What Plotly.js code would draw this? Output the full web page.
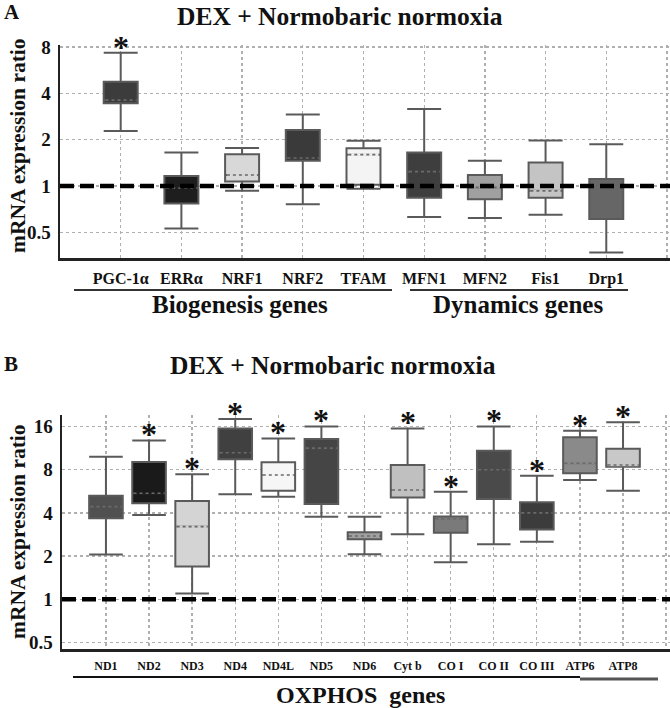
<!DOCTYPE html>
<html>
<head>
<meta charset="utf-8">
<script src="https://cdn.plot.ly/plotly-3.0.1.min.js"></script>
<style>html,body{margin:0;padding:0;background:#fff;}#chart{width:670px;height:708px;}</style>
</head>
<body>
<div id="chart"></div>
<script>
// ---------- Panel A data ----------
const catsA  = ['PGC-1α','ERRα','NRF1','NRF2','TFAM','MFN1','MFN2','Fis1','Drp1'];
const upperA = [7.36, 1.65, 1.77, 2.92, 1.97, 3.17, 1.46, 1.98, 1.87];
const q3A    = [4.77, 1.16, 1.61, 2.31, 1.76, 1.65, 1.18, 1.42, 1.11];
const medA   = [3.62, 0.97, 1.18, 1.52, 1.60, 1.24, 0.98, 0.93, 0.98];
const q1A    = [3.45, 0.77, 1.07, 1.46, 1.02, 0.84, 0.82, 0.84, 0.61];
const lowerA = [2.28, 0.53, 0.93, 0.76, 0.96, 0.63, 0.62, 0.65, 0.37];
const sigA   = [true, false, false, false, false, false, false, false, false];

// ---------- Panel B data ----------
const catsB  = ['ND1','ND2','ND3','ND4','ND4L','ND5','ND6','Cyt b','CO I','CO II','CO III','ATP6','ATP8'];
const upperB = [9.86, 12.8, 7.43, 18.0, 13.2, 16.0, 3.76, 15.5, 5.62, 16.0, 7.27, 14.96, 17.1];
const q3B    = [5.27, 9.05, 4.84, 15.5, 9.0, 13.1, 2.93, 8.63, 3.78, 10.85, 4.74, 13.45, 11.2];
const medB   = [4.42, 5.48, 3.21, 10.5, 7.35, 11.3, 2.76, 5.78, 3.65, 8.0, 4.0, 8.86, 8.63];
const q1B    = [3.67, 4.67, 1.69, 9.45, 5.71, 4.61, 2.62, 5.13, 2.91, 5.0, 3.07, 7.55, 8.4];
const lowerB = [2.05, 3.87, 1.10, 5.39, 5.19, 3.76, 2.06, 2.84, 1.81, 2.42, 2.52, 6.78, 5.71];
const sigB   = [false, true, true, true, true, true, false, true, true, true, true, true, true];

const refLevel = 1;
const yTicksA = [0.5, 1, 2, 4, 8];
const yTicksB = [0.5, 1, 2, 4, 8, 16];

// ---------- styles ----------
const fillA = ['#3c3c3c','#1e1e1e','#d8d8d8','#3a3a3a','#f4f4f4','#3e3e3e','#a0a0a0','#c4c4c4','#666666'];
const fillB = ['#505050','#1a1a1a','#d4d4d4','#404040','#f6f6f6','#454545','#a0a0a0','#c0c0c0','#7a7a7a','#4a4a4a','#3c3c3c','#8a8a8a','#c8c8c8'];
const FONT = 'Liberation Serif, Times New Roman, serif';

const traces = [];
const annotations = [];

function addPanel(cats, upper, q3, med, q1, lower, sig, fills, xa, ya, bw, xr) {
  cats.forEach((c, i) => {
    traces.push({
      type: 'box', x: [i], q1: [q1[i]], median: [med[i]], q3: [q3[i]],
      lowerfence: [lower[i]], upperfence: [upper[i]],
      width: bw, whiskerwidth: 1, boxpoints: false,
      fillcolor: fills[i], line: {color: '#5a5a5a', width: 2},
      xaxis: xa, yaxis: ya, showlegend: false, hoverinfo: 'skip'
    });
    // cover solid median, then draw dotted median
    traces.push({
      type: 'scatter', mode: 'lines', x: [i - bw/2 + 0.03, i + bw/2 - 0.03], y: [med[i], med[i]],
      line: {color: fills[i], width: 2.5}, xaxis: xa, yaxis: ya, showlegend: false, hoverinfo: 'skip'
    });
    traces.push({
      type: 'scatter', mode: 'lines', x: [i - bw/2 + 0.03, i + bw/2 - 0.03], y: [med[i], med[i]],
      line: {color: '#6a6a6a', width: 1.6, dash: 'dot'}, xaxis: xa, yaxis: ya, showlegend: false, hoverinfo: 'skip'
    });
    if (sig[i]) {
      annotations.push({
        xref: xa, yref: ya, x: i, y: Math.log10(upper[i]), yshift: 6,
        text: '*', showarrow: false, xanchor: 'center', yanchor: 'middle',
        font: {family: FONT, size: 32, color: '#111', weight: 'bold'}
      });
    }
  });
  // reference dashed line at 1
  traces.push({
    type: 'scatter', mode: 'lines', x: xr, y: [refLevel, refLevel],
    line: {color: '#000', width: 4.5, dash: '14px,6px'},
    xaxis: xa, yaxis: ya, showlegend: false, hoverinfo: 'skip', cliponaxis: true
  });
}

addPanel(catsA, upperA, q3A, medA, q1A, lowerA, sigA, fillA, 'x', 'y', 0.56, [-1, 9.05]);
addPanel(catsB, upperB, q3B, medB, q1B, lowerB, sigB, fillB, 'x2', 'y2', 0.78, [-1.02, 13.09]);

function xAxis(cats, domain, range, anchor, size, standoff) {
  const vals = cats.map((_, i) => i).concat([cats.length]);
  return {
    domain: domain, range: range, anchor: anchor, type: 'linear',
    tickmode: 'array', tickvals: vals, ticktext: cats.concat(['']),
    showgrid: true, gridcolor: '#b0b0b0', gridwidth: 1.3, griddash: 'dot',
    zeroline: false, showline: true, linecolor: '#222', linewidth: 3,
    ticks: '', ticklabelstandoff: standoff,
    tickfont: {family: FONT, size: size, color: '#111', weight: 'bold'}
  };
}
function yAxis(ticks, domain, range, anchor) {
  return {
    domain: domain, range: range, anchor: anchor, type: 'log',
    tickmode: 'array', tickvals: ticks, ticktext: ticks.map(String),
    showgrid: true, gridcolor: '#b0b0b0', gridwidth: 1.3, griddash: 'dot',
    zeroline: false, showline: true, linecolor: '#222', linewidth: 2.5,
    ticks: '', ticklabelstandoff: 3,
    tickfont: {family: FONT, size: 19, color: '#111', weight: 'bold'}
  };
}

const tFont = (s) => ({family: FONT, size: s, color: '#111', weight: 'bold'});
const paperText = (text, x, y, size, angle) => ({
  xref: 'paper', yref: 'paper', x: x / 670, y: 1 - y / 708, text: text, showarrow: false,
  xanchor: 'center', yanchor: 'middle', textangle: angle || 0, font: tFont(size)
});

annotations.push(
  paperText('A', 12, 12, 21),
  paperText('DEX + Normobaric normoxia', 340, 16, 25.5),
  paperText('mRNA expression ratio', 18, 146, 21.5, -90),
  paperText('Biogenesis genes', 240, 304, 25),
  paperText('Dynamics genes', 518, 304, 25),
  paperText('B', 11, 364, 21),
  paperText('DEX + Normobaric normoxia', 333, 365, 25.5),
  paperText('mRNA expression ratio', 18, 532, 21.5, -90),
  paperText('OXPHOS\u00a0 genes', 361, 695, 24)
);

const hLine = (x0, x1, y, color, w) => ({
  type: 'line', xref: 'paper', yref: 'paper', x0: x0 / 670, x1: x1 / 670,
  y0: 1 - y / 708, y1: 1 - y / 708, line: {color: color, width: w}
});

const layout = {
  width: 670, height: 708, margin: {l: 0, r: 0, t: 0, b: 0},
  paper_bgcolor: '#fff', plot_bgcolor: '#fff', showlegend: false, boxmode: 'overlay',
  xaxis: xAxis(catsA, [60/670, 1], [-1, 9.05], 'y', 16, 4),
  yaxis: yAxis(yTicksA, [1 - 258/708, 1 - 45/708], [-0.468, 0.917], 'x'),
  xaxis2: xAxis(catsB, [62/670, 1], [-1.02, 13.09], 'y2', 12, 4),
  yaxis2: yAxis(yTicksB, [1 - 649/708, 1 - 415/708], [-0.346, 1.284], 'x2'),
  annotations: annotations,
  shapes: [
    hLine(74, 392, 290, '#333', 2),
    hLine(410, 628, 290, '#333', 2),
    hLine(73, 580, 677, '#111', 2),
    hLine(580, 658, 679, '#555', 3)
  ]
};

Plotly.newPlot('chart', traces, layout, {staticPlot: true});
</script>
</body>
</html>
